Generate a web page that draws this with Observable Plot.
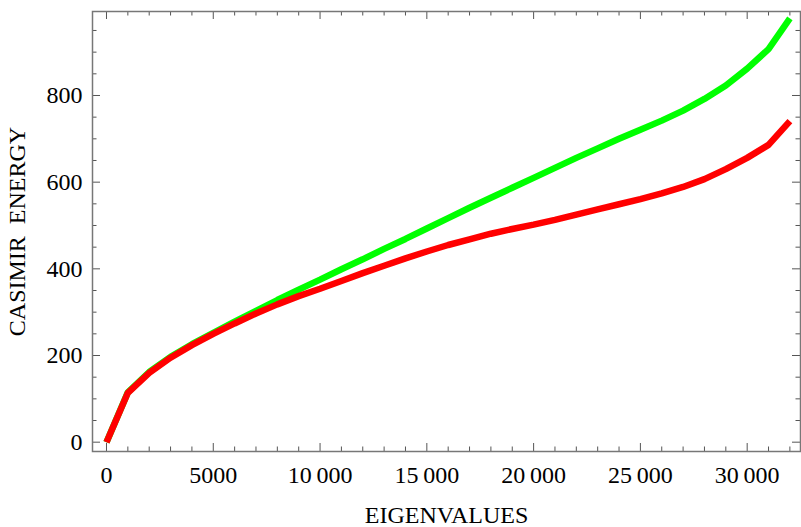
<!DOCTYPE html>
<html>
<head>
<meta charset="utf-8">
<script src="https://cdn.jsdelivr.net/npm/d3@7"></script>
<script src="https://cdn.jsdelivr.net/npm/@observablehq/plot@0.6"></script>
<style>
  html, body { margin: 0; padding: 0; background: #fff; }
</style>
</head>
<body>
<div id="chart"></div>
<script>
const eigenvalues = [0, 1000, 2000, 3000, 4000, 5000, 6000, 7000, 8000, 9000, 10000,
  11000, 12000, 13000, 14000, 15000, 16000, 17000, 18000, 19000, 20000,
  21000, 22000, 23000, 24000, 25000, 26000, 27000, 28000, 29000, 30000, 31000, 32000];
const greenEnergy = [0, 115, 162, 197, 226, 252, 278, 303, 328, 352, 375,
  399, 422, 446, 469, 493, 517, 541, 564, 587, 610,
  633, 656, 678, 700, 721, 742, 765, 792, 823, 862, 907, 978];
const redEnergy = [0, 114, 160, 195, 224, 250, 274, 297, 318, 337, 354,
  372, 390, 407, 424, 440, 455, 468, 481, 492, 502,
  513, 525, 537, 549, 561, 574, 589, 607, 630, 656, 686, 741];

const xMajor = [0, 5000, 10000, 15000, 20000, 25000, 30000];
const xMinor = d3.range(0, 32001, 1000).filter(v => v % 5000 !== 0);
const yMajor = [0, 200, 400, 600, 800];
const yMinor = d3.range(0, 951, 50).filter(v => v % 200 !== 0);

const xLabel = "EIGENVALUES";
const yLabel = "CASIMIR\u2002ENERGY";

const green = eigenvalues.map((x, i) => ({x, y: greenEnergy[i]}));
const red = eigenvalues.map((x, i) => ({x, y: redEnergy[i]}));

const fmt = v => v >= 10000 ? d3.format(",")(v).replace(",", "\u2009") : String(v);

const W = 801, H = 527;
const mL = 92, mR = 1, mT = 11, mB = 76;
const innerW = W - mL - mR, innerH = H - mT - mB;
const tickColor = "#555";
const majorLen = 8, minorLen = 4.5;
const serif = "'Liberation Serif', 'Times New Roman', serif";

const chart = Plot.plot({
  width: W,
  height: H,
  marginLeft: mL,
  marginRight: mR,
  marginTop: mT,
  marginBottom: mB,
  style: {fontFamily: serif, fontSize: "24px", background: "#fff", color: "#000"},
  x: {domain: [-655, 32497]},
  y: {domain: [-21.5, 993.8]},
  marks: [
    Plot.line(green, {x: "x", y: "y", stroke: "#00ff00", strokeWidth: 6.5, strokeLinecap: "butt", strokeLinejoin: "miter"}),
    Plot.line(red, {x: "x", y: "y", stroke: "#ff0000", strokeWidth: 6.5, strokeLinecap: "butt", strokeLinejoin: "miter"}),
    // bottom ticks
    Plot.tickX(xMajor, {x: d => d, stroke: tickColor, insetTop: innerH - majorLen}),
    Plot.tickX(xMinor, {x: d => d, stroke: tickColor, insetTop: innerH - minorLen}),
    // top ticks
    Plot.tickX(xMajor, {x: d => d, stroke: tickColor, insetBottom: innerH - majorLen}),
    Plot.tickX(xMinor, {x: d => d, stroke: tickColor, insetBottom: innerH - minorLen}),
    // left ticks
    Plot.tickY(yMajor, {y: d => d, stroke: tickColor, insetRight: innerW - majorLen}),
    Plot.tickY(yMinor, {y: d => d, stroke: tickColor, insetRight: innerW - minorLen}),
    // right ticks
    Plot.tickY(yMajor, {y: d => d, stroke: tickColor, insetLeft: innerW - majorLen}),
    Plot.tickY(yMinor, {y: d => d, stroke: tickColor, insetLeft: innerW - minorLen}),
    Plot.frame({stroke: "#777", strokeWidth: 1.5}),
    Plot.axisX({ticks: xMajor, tickSize: 0, tickPadding: 14, tickFormat: fmt, label: null, fill: "#000", fontSize: 24, fontFamily: serif}),
    Plot.axisY({ticks: yMajor, tickSize: 0, tickPadding: 10, tickFormat: fmt, label: null, fill: "#000", fontSize: 24, fontFamily: serif}),
    Plot.text([xLabel], {text: d => d, frameAnchor: "bottom", dy: 64, lineAnchor: "middle", textAnchor: "middle", fontSize: 24, fontFamily: serif, fill: "#000"}),
    Plot.text([yLabel], {text: d => d, frameAnchor: "left", dx: -75, rotate: -90, lineAnchor: "middle", textAnchor: "middle", fontSize: 24, fontFamily: serif, fill: "#000"})
  ]
});

document.getElementById("chart").appendChild(chart);
</script>
</body>
</html>
